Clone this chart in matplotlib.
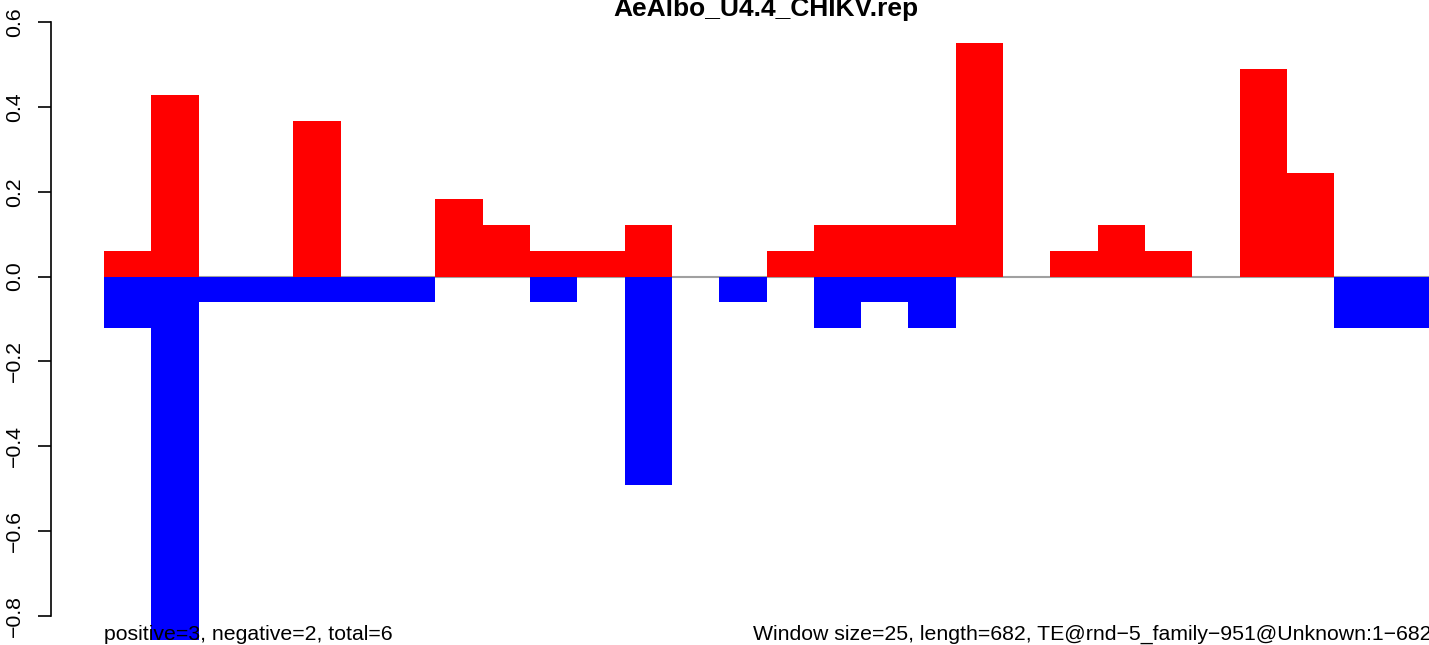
import numpy as np
import matplotlib
matplotlib.use("Agg")
import matplotlib.pyplot as plt

plt.rcParams['font.family'] = ['Liberation Sans', 'DejaVu Sans']

title = "AeAlbo_U4.4_CHIKV.rep"
left_note = "positive=3, negative=2, total=6"
right_note = "Window size=25, length=682, TE@rnd\u22125_family\u2212951@Unknown:1\u2212682"

# one value per window, 28 windows
pos_vals = [0.061, 0.428, 0, 0, 0.367, 0, 0, 0.184, 0.122, 0.061,
            0.061, 0.122, 0, 0, 0.061, 0.122, 0.122, 0.122, 0.551, 0,
            0.061, 0.122, 0.061, 0, 0.490, 0.245, 0, 0]
neg_vals = [-0.122, -0.857, -0.061, -0.061, -0.061, -0.061, -0.061, 0, 0, -0.061,
            0, -0.490, 0, -0.061, 0, -0.122, -0.061, -0.122, 0, 0,
            0, 0, 0, 0, 0, 0, -0.122, -0.122]
yticks = [-0.8, -0.6, -0.4, -0.2, 0.0, 0.2, 0.4, 0.6]

W, H = 1429, 645
fig = plt.figure(figsize=(W / 100, H / 100), dpi=100)
ax = fig.add_axes([104 / W, 0, 1325 / W, 1])

n = len(pos_vals)
x = np.arange(n)
ax.axhline(0, color='#a0a0a0', lw=1.5, zorder=1)
ax.bar(x, pos_vals, width=1, align='edge', color='red', lw=0, zorder=2)
ax.bar(x, neg_vals, width=1, align='edge', color='blue', lw=0, zorder=2)

ax.set_xlim(0, n)
ax.set_ylim(-(645 - 276.6) / 424.3, 276.6 / 424.3)

for s in ['top', 'right', 'bottom']:
    ax.spines[s].set_visible(False)
ax.spines['left'].set_position(('outward', 53 * 0.72))
ax.spines['left'].set_bounds(-0.8, 0.6)
ax.spines['left'].set_linewidth(1.2)
ax.set_xticks([])
ax.set_yticks(yticks)
ax.set_yticklabels([f"{v:.1f}".replace('-', '\u2212') for v in yticks],
                   rotation=90, va='center', fontsize=15.3)
ax.tick_params(axis='y', length=9.5, width=1.2, pad=10)
ax.patch.set_visible(False)

fig.text(766 / W, 1 - 16 / H, title, ha='center', va='baseline',
         fontsize=19, fontweight='bold')
fig.text(104 / W, 1 - 640 / H, left_note, ha='left', va='baseline', fontsize=15.3, zorder=5)
fig.text(1431 / W, 1 - 640 / H, right_note, ha='right', va='baseline', fontsize=15.3)

fig.savefig("out.png", dpi=100)
